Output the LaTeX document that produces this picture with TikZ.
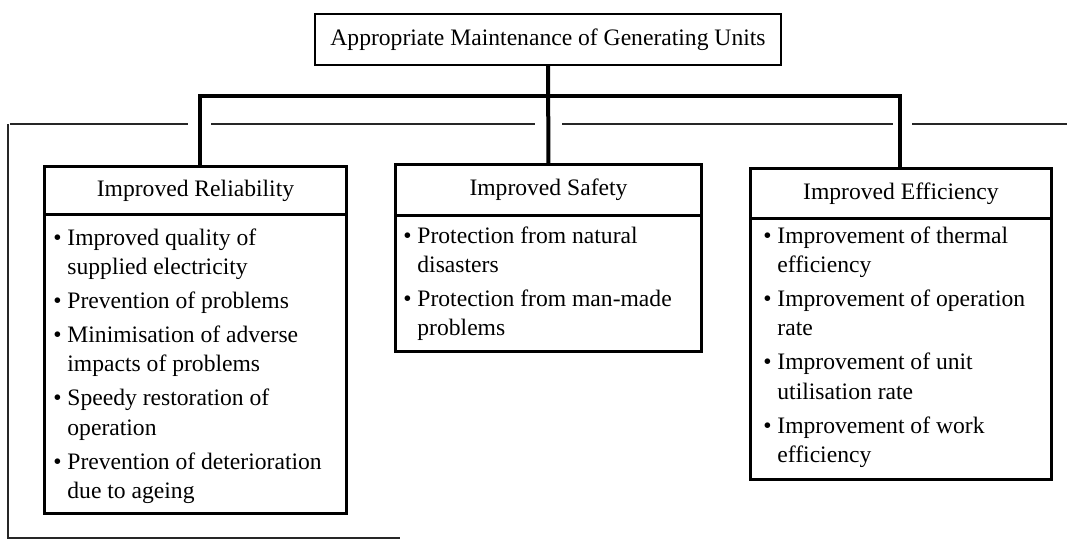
\documentclass[tikz,border=0pt]{standalone}
\usepackage{fontspec}
\setmainfont{Liberation Serif}
\newcommand\bul{\textbullet\ }
\newcommand\cnt{\hphantom{\textbullet\ }}
\newcommand\fst{\rule{0pt}{14pt}}
\begin{document}
\begin{tikzpicture}[x=0.75pt,y=-0.75pt,
  every node/.style={font=\fontsize{17.7}{22}\selectfont},
  frame/.style={draw,line width=2.2pt,anchor=north west,inner sep=0pt},
  titlebox/.style={draw,line width=1.5pt,anchor=north west,inner sep=0pt},
  txt/.style={anchor=north west,inner sep=0pt,align=left},
  conn/.style={line width=3pt},
  thin/.style={line width=0.9pt,black!85}]
\useasboundingbox (0,0) rectangle (1067,540);
% thin outer frame
\draw[thin] (10,124) -- (188,124);
\draw[thin] (211,124) -- (535,124);
\draw[thin] (562,124) -- (893,124);
\draw[thin] (912,124) -- (1067,124);
\draw[thin] (8,124) -- (8,538) -- (400,538);
% title
\node[titlebox,minimum width={466*0.75pt},minimum height={51*0.75pt}] (top) at (314,13) {Appropriate Maintenance of Generating Units};
% left box
\node[frame,minimum width={302*0.75pt},minimum height={48*0.75pt}] (relh) at (43,165) {Improved Reliability};
\node[frame,minimum width={302*0.75pt},minimum height={299*0.75pt}] (relb) at (43,213) {};
\node[txt] (relt) at (53,226.3) {\fst\bul Improved quality of\\ \cnt supplied electricity\\[3.5pt]
\bul Prevention of problems\\[3.5pt]
\bul Minimisation of adverse\\ \cnt impacts of problems\\[3.5pt]
\bul Speedy restoration of\\ \cnt operation\\[3.5pt]
\bul Prevention of deterioration\\ \cnt due to ageing};
% middle box
\node[frame,minimum width={306*0.75pt},minimum height={51*0.75pt}] (safh) at (394,163) {Improved Safety};
\node[frame,minimum width={306*0.75pt},minimum height={136*0.75pt}] (safb) at (394,214) {};
\node[txt] (saft) at (403,224.3) {\fst\bul Protection from natural\\ \cnt disasters\\[3.5pt]
\bul Protection from man-made\\ \cnt problems};
% right box
\node[frame,minimum width={301*0.75pt},minimum height={50*0.75pt}] (effh) at (749,167) {Improved Efficiency};
\node[frame,minimum width={301*0.75pt},minimum height={261*0.75pt}] (effb) at (749,217) {};
\node[txt] (efft) at (763,224.3) {\fst\bul Improvement of thermal\\ \cnt efficiency\\[3.5pt]
\bul Improvement of operation\\ \cnt rate\\[3.5pt]
\bul Improvement of unit\\ \cnt utilisation rate\\[3.5pt]
\bul Improvement of work\\ \cnt efficiency};
% connectors
\coordinate (jl) at (200,96);
\coordinate (jr) at (900,96);
\draw[conn] (top.south) -- (safh.north);
\draw[conn] (jl |- relh.north) -- (jl) -- (jr) -- (jr |- effh.north);
\end{tikzpicture}
\end{document}
